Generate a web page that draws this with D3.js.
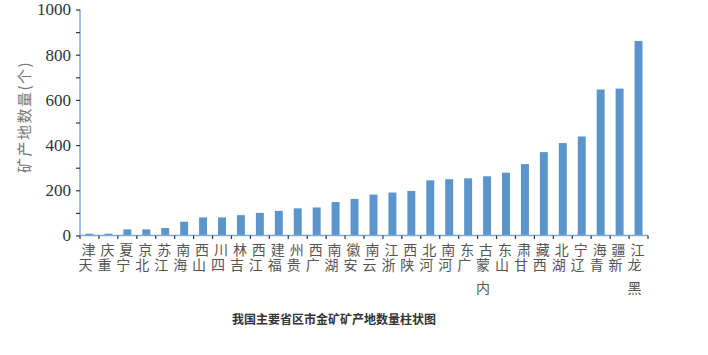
<!DOCTYPE html>
<html>
<head>
<meta charset="utf-8">
<script src="https://cdn.jsdelivr.net/npm/d3@7"></script>
<style>
  html, body { margin: 0; padding: 0; background: #fff; }
  svg { display: block; }
  .vlabel { writing-mode: vertical-rl; text-orientation: upright; }
</style>
</head>
<body>
<svg id="chart" width="708" height="355"></svg>
<script>
const categories = ["天津","重庆","宁夏","北京","江苏","海南","山西","四川","吉林","江西","福建","贵州","广西","湖南","安徽","云南","浙江","陕西","河北","河南","广东","内蒙古","山东","甘肃","西藏","湖北","辽宁","青海","新疆","黑龙江"];
const values = [8,8,27,27,33,61,80,80,90,100,109,120,124,148,162,181,190,197,244,249,253,262,278,316,369,409,438,646,650,861];
const yTicks = [0,200,400,600,800,1000];
const yMinorTicks = [100,300,500,700,900];
const yTitle = "矿产地数量(个)";
const chartTitle = "我国主要省区市金矿矿产地数量柱状图";

const svg = d3.select("#chart");
const plotLeft = 80, plotRight = 648, plotBottom = 235.5, plotTop = 9.5;

const x = d3.scaleBand().domain(categories).range([plotLeft, plotRight]).paddingInner(0.58).paddingOuter(0.29);
const y = d3.scaleLinear().domain([0, 1000]).range([plotBottom, plotTop]);

// bars
svg.append("g").selectAll("rect").data(values).join("rect")
  .attr("x", (d, i) => x(categories[i]))
  .attr("width", x.bandwidth())
  .attr("y", d => y(d))
  .attr("height", d => y(0) - y(d))
  .attr("fill", "#5b95cc");

// y axis
const yAxis = svg.append("g").attr("transform", `translate(${plotLeft},0)`)
  .call(d3.axisLeft(y).tickValues(yTicks).tickSize(4).tickPadding(5).tickFormat(d3.format("d")));
yAxis.select(".domain").attr("stroke", "#7fabdc").attr("stroke-width", 1.5).attr("d", `M0,${plotBottom}V${plotTop}`);
yAxis.selectAll(".tick line").attr("stroke", "#333").attr("stroke-width", 1.2);
yAxis.selectAll(".tick text").attr("font-family", "'Liberation Serif', serif").attr("font-size", 17).attr("fill", "#333");
const yMinor = svg.append("g").attr("transform", `translate(${plotLeft},0)`)
  .call(d3.axisLeft(y).tickValues(yMinorTicks).tickSize(4).tickFormat(""));
yMinor.select(".domain").remove();
yMinor.selectAll(".tick line").attr("stroke", "#333").attr("stroke-width", 1.2);

// x axis
const boundaries = d3.range(categories.length + 1).map(k => plotLeft + k * x.step());
const xAxis = svg.append("g").attr("transform", `translate(0,${plotBottom})`);
xAxis.append("path").attr("d", `M${plotLeft},0H${plotRight}`).attr("stroke", "#7fabdc").attr("stroke-width", 1.5).attr("fill", "none");
xAxis.selectAll("line").data(boundaries).join("line")
  .attr("x1", d => d).attr("x2", d => d).attr("y1", 0).attr("y2", 3.5)
  .attr("stroke", "#333").attr("stroke-width", 1.2);

// x labels: upright characters stacked vertically, reading bottom-to-top
const labels = svg.append("g").attr("font-family", "'Noto Sans CJK SC', sans-serif").attr("font-size", 14).attr("fill", "#555");
categories.forEach(c => {
  const cx = x(c) + x.bandwidth() / 2;
  const chars = Array.from(c).reverse();
  chars.forEach((ch, i) => {
    labels.append("text")
      .attr("class", "vlabel")
      .attr("x", cx - 1 - Math.min(i, 1) * 3)
      .attr("y", 243 + i * 14.5 + (i >= 2 ? 9 : 0))
      .attr("text-anchor", "start")
      .text(ch);
  });
});

// y title
svg.append("text")
  .attr("transform", "translate(30,117) rotate(-90)")
  .attr("text-anchor", "middle")
  .attr("font-family", "'Noto Sans CJK SC', sans-serif")
  .attr("font-size", 15)
  .attr("letter-spacing", 1.5)
  .attr("fill", "#777")
  .text(yTitle);

// chart title
svg.append("text")
  .attr("x", 334).attr("y", 324)
  .attr("text-anchor", "middle")
  .attr("font-family", "'Noto Sans CJK SC', sans-serif")
  .attr("font-size", 12)
  .attr("font-weight", "bold")
  .attr("fill", "#333")
  .text(chartTitle);
</script>
</body>
</html>
